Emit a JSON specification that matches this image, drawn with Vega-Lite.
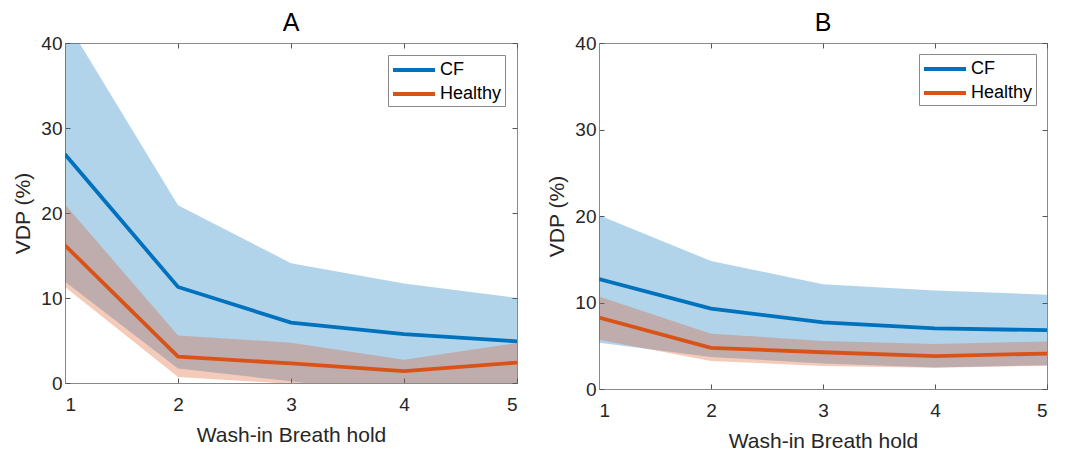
{
  "$schema": "https://vega.github.io/schema/vega-lite/v6.json",
  "background": "white",
  "autosize": {"type": "pad"},
  "padding": {"left": 12, "top": 10, "right": 0, "bottom": 0},
  "spacing": 28,
  "config": {
    "font": "Liberation Sans",
    "view": {"stroke": "#8a8a8a", "strokeWidth": 1},
    "axis": {
      "grid": false,
      "domainColor": "#8a8a8a",
      "tickColor": "#555555",
      "tickSize": -5,
      "labelFontSize": 19,
      "labelColor": "#262626",
      "titleFontSize": 21,
      "titleFontWeight": "normal",
      "titleColor": "#262626"
    },
    "title": {"fontSize": 25, "fontWeight": "normal", "color": "#000000", "font": "Liberation Sans"}
  },
  "data": {
    "values": [
      {"panel": "A", "group": "CF", "x": 1, "mean": 26.9, "lo": 11.9, "hi": 42.8},
      {"panel": "A", "group": "CF", "x": 2, "mean": 11.3, "lo": 1.7, "hi": 20.9},
      {"panel": "A", "group": "CF", "x": 3, "mean": 7.1, "lo": 0.2, "hi": 14.1},
      {"panel": "A", "group": "CF", "x": 4, "mean": 5.75, "lo": -1.5, "hi": 11.7},
      {"panel": "A", "group": "CF", "x": 5, "mean": 4.9, "lo": -0.5, "hi": 10.0},
      {"panel": "A", "group": "Healthy", "x": 1, "mean": 16.2, "lo": 11.3, "hi": 21.0},
      {"panel": "A", "group": "Healthy", "x": 2, "mean": 3.1, "lo": 0.7, "hi": 5.6},
      {"panel": "A", "group": "Healthy", "x": 3, "mean": 2.3, "lo": -0.1, "hi": 4.75},
      {"panel": "A", "group": "Healthy", "x": 4, "mean": 1.4, "lo": -2.0, "hi": 2.75},
      {"panel": "A", "group": "Healthy", "x": 5, "mean": 2.4, "lo": -0.5, "hi": 4.7},
      {"panel": "B", "group": "CF", "x": 1, "mean": 12.7, "lo": 5.35, "hi": 20.1},
      {"panel": "B", "group": "CF", "x": 2, "mean": 9.3, "lo": 3.7, "hi": 14.8},
      {"panel": "B", "group": "CF", "x": 3, "mean": 7.7, "lo": 2.95, "hi": 12.1},
      {"panel": "B", "group": "CF", "x": 4, "mean": 7.0, "lo": 2.5, "hi": 11.4},
      {"panel": "B", "group": "CF", "x": 5, "mean": 6.8, "lo": 2.75, "hi": 10.9},
      {"panel": "B", "group": "Healthy", "x": 1, "mean": 8.25, "lo": 5.7, "hi": 10.7},
      {"panel": "B", "group": "Healthy", "x": 2, "mean": 4.75, "lo": 3.25, "hi": 6.4},
      {"panel": "B", "group": "Healthy", "x": 3, "mean": 4.25, "lo": 2.65, "hi": 5.55},
      {"panel": "B", "group": "Healthy", "x": 4, "mean": 3.8, "lo": 2.45, "hi": 5.2},
      {"panel": "B", "group": "Healthy", "x": 5, "mean": 4.1, "lo": 2.7, "hi": 5.5}
    ]
  },
  "resolve": {
    "scale": {"x": "independent", "y": "independent", "color": "independent"},
    "legend": {"color": "independent"}
  },
  "hconcat": [
    {
      "width": 452,
      "height": 340,
      "title": {"text": "A", "offset": -2},
      "transform": [{"filter": "datum.panel == 'A'"}],
      "resolve": {"axis": {"x": "independent", "y": "independent"}},
      "layer": [
        {
          "mark": {"type": "area", "fillOpacity": 0.3, "clip": true},
          "encoding": {
            "x": {"field": "x", "type": "quantitative", "scale": {"domain": [1, 5], "nice": false},
              "axis": {"values": [1, 2, 3, 4, 5], "format": "d", "title": "Wash-in Breath hold", "labelPadding": 17, "titlePadding": 10}},
            "y": {"field": "lo", "type": "quantitative", "scale": {"domain": [0, 40], "nice": false},
              "axis": {"values": [0, 10, 20, 30, 40], "title": "VDP (%)", "labelPadding": 8, "titlePadding": 7}},
            "y2": {"field": "hi"},
            "color": {"field": "group", "type": "nominal", "scale": {"domain": ["CF", "Healthy"], "range": ["#0072BD", "#D95319"]}}
          }
        },
        {
          "mark": {"type": "line", "strokeWidth": 3.8, "clip": true},
          "encoding": {
            "x": {"field": "x", "type": "quantitative", "axis": null},
            "y": {"field": "mean", "type": "quantitative", "axis": null},
            "color": {"field": "group", "type": "nominal",
              "legend": {"title": null, "orient": "top-right", "offset": 12, "symbolType": "M-1,0H3.2", "symbolSize": 400, "symbolStrokeWidth": 4, "labelFontSize": 18, "labelColor": "#000000", "strokeColor": "#8a8a8a", "fillColor": "white", "padding": 3, "rowPadding": 3, "labelOffset": 25, "cornerRadius": 0,
                "encode": {"symbols": {"update": {"opacity": {"value": 1}, "strokeOpacity": {"value": 1}, "fillOpacity": {"value": 0}}}}}}
          }
        },
        {
          "mark": {"type": "line", "strokeOpacity": 0, "clip": true},
          "encoding": {
            "x": {"field": "x", "type": "quantitative", "axis": {"orient": "top", "values": [1, 2, 3, 4, 5], "labels": false, "title": null, "domain": false}},
            "y": {"field": "mean", "type": "quantitative", "axis": {"orient": "right", "values": [0, 10, 20, 30, 40], "labels": false, "title": null, "domain": false}},
            "detail": {"field": "group"}
          }
        }
      ]
    },
    {
      "width": 448,
      "height": 346,
      "title": {"text": "B", "offset": -2},
      "transform": [{"filter": "datum.panel == 'B'"}],
      "resolve": {"axis": {"x": "independent", "y": "independent"}},
      "layer": [
        {
          "mark": {"type": "area", "fillOpacity": 0.3, "clip": true},
          "encoding": {
            "x": {"field": "x", "type": "quantitative", "scale": {"domain": [1, 5], "nice": false},
              "axis": {"values": [1, 2, 3, 4, 5], "format": "d", "title": "Wash-in Breath hold", "labelPadding": 17, "titlePadding": 10}},
            "y": {"field": "lo", "type": "quantitative", "scale": {"domain": [0, 40], "nice": false},
              "axis": {"values": [0, 10, 20, 30, 40], "title": "VDP (%)", "labelPadding": 8, "titlePadding": 7}},
            "y2": {"field": "hi"},
            "color": {"field": "group", "type": "nominal", "scale": {"domain": ["CF", "Healthy"], "range": ["#0072BD", "#D95319"]}}
          }
        },
        {
          "mark": {"type": "line", "strokeWidth": 3.8, "clip": true},
          "encoding": {
            "x": {"field": "x", "type": "quantitative", "axis": null},
            "y": {"field": "mean", "type": "quantitative", "axis": null},
            "color": {"field": "group", "type": "nominal",
              "legend": {"title": null, "orient": "top-right", "offset": 11, "symbolType": "M-1,0H3.2", "symbolSize": 400, "symbolStrokeWidth": 4, "labelFontSize": 18, "labelColor": "#000000", "strokeColor": "#8a8a8a", "fillColor": "white", "padding": 3, "rowPadding": 3, "labelOffset": 25, "cornerRadius": 0,
                "encode": {"symbols": {"update": {"opacity": {"value": 1}, "strokeOpacity": {"value": 1}, "fillOpacity": {"value": 0}}}}}}
          }
        },
        {
          "mark": {"type": "line", "strokeOpacity": 0, "clip": true},
          "encoding": {
            "x": {"field": "x", "type": "quantitative", "axis": {"orient": "top", "values": [1, 2, 3, 4, 5], "labels": false, "title": null, "domain": false}},
            "y": {"field": "mean", "type": "quantitative", "axis": {"orient": "right", "values": [0, 10, 20, 30, 40], "labels": false, "title": null, "domain": false}},
            "detail": {"field": "group"}
          }
        }
      ]
    }
  ]
}
